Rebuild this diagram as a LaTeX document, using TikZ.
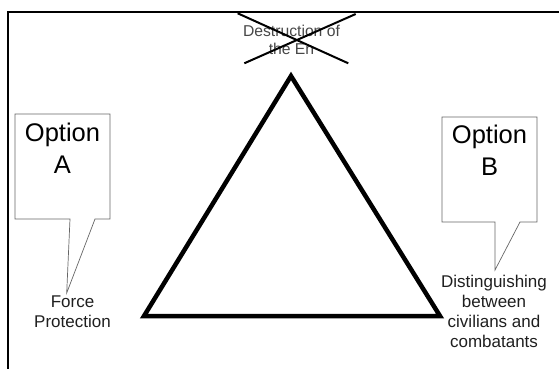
\documentclass[tikz,border=0pt]{standalone}
\usepackage{fontspec}
\setmainfont{Liberation Sans}
\usetikzlibrary{positioning}

\begin{document}
\begin{tikzpicture}[x=1pt,y=-1pt,
  label text/.style={font=\fontsize{17}{20}\selectfont, align=center, anchor=base, inner sep=0pt, text=black!88},
  option text/.style={font=\fontsize{25.5}{32}\selectfont, align=center, anchor=base, inner sep=0pt},
  callout/.style={draw=black!60, line width=0.7pt, fill=white, line join=miter}]
\useasboundingbox (0,0) rectangle (559,369);
\draw[black, line width=2pt] (559,12) -- (8,12) -- (8,369);
\coordinate (apex) at (291,76);
\coordinate (left corner) at (144,316);
\coordinate (right corner) at (440,316);
\draw[black, line width=4.5pt] (apex) -- (right corner) -- (left corner) -- cycle;
\draw[callout] (15,114) -- (110,114) -- (110,219) -- (95,219) -- (66.7,293) -- (70,219) -- (15,219) -- cycle;
\node[option text] (optA) at (62.5,173) {Option\\A};
\draw[callout] (442,117) -- (537,117) -- (537,222) -- (520,222) -- (495,270) -- (495,222) -- (442,222) -- cycle;
\node[option text] (optB) at (489.5,175) {Option\\B};
\node[label text] (force) at (72.5,327) {Force\\Protection};
\node[label text] (distinguish) at (494,347) {Distinguishing\\between\\civilians and\\combatants};
\node[label text, font=\fontsize{15.7}{18}\selectfont, text=black!72] (enemy) at (291.5,55) {Destruction of\\the En};
\draw[black, line width=2pt] (237.7,13.3) -- (348.3,63.3);
\draw[black, line width=2pt] (355.7,14) -- (244.3,63.3);
\end{tikzpicture}
\end{document}
